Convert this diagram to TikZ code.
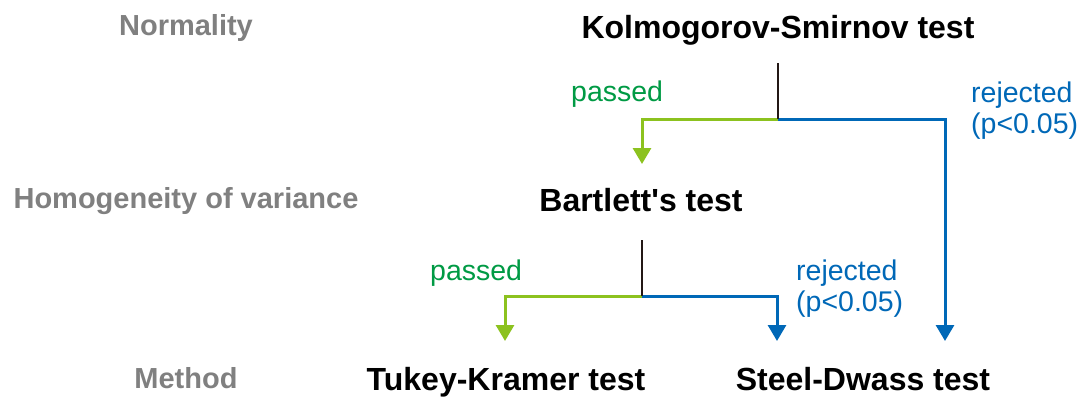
\documentclass[tikz,border=0pt]{standalone}
\usepackage{fontspec}
\setmainfont{Liberation Sans}[Ligatures=TeXOff]
\usetikzlibrary{arrows.meta}
\definecolor{graytxt}{HTML}{808080}
\definecolor{greentxt}{HTML}{009A44}
\definecolor{greenln}{HTML}{8CC21F}
\definecolor{blueln}{HTML}{0068B7}
\definecolor{blackln}{HTML}{231815}
\tikzset{
  rowlabel/.style={font=\fontsize{29}{33}\selectfont\bfseries, text=graytxt, anchor=base, inner sep=0pt},
  testlabel/.style={font=\fontsize{32}{36}\selectfont\bfseries, text=black, anchor=base, inner sep=0pt},
  passlabel/.style={font=\fontsize{28.5}{31}\selectfont, text=greentxt, anchor=base west, inner sep=0pt},
  rejlabel/.style={font=\fontsize{28.5}{31}\selectfont, text=blueln, anchor=base west, inner sep=0pt, align=left},
  stem/.style={draw=blackln, line width=2.8pt},
  passline/.style={draw=greenln, line width=3pt, -{Triangle[length=16pt,width=18pt]}},
  rejline/.style={draw=blueln, line width=3pt, -{Triangle[length=16pt,width=18pt]}}
}
\begin{document}
\begin{tikzpicture}[x=1pt,y=-1pt]
\useasboundingbox (0,0) rectangle (1083,396);
% row labels
\node[rowlabel] (normality) at (186,36) {Normality};
\node[rowlabel] (homog) at (186,208) {Homogeneity of variance};
\node[rowlabel] (method) at (186,388) {Method};
% tests
\node[testlabel] (ks) at (778,38) {Kolmogorov-Smirnov test};
\node[testlabel] (bart) at (641,211) {Bartlett's test};
\node[testlabel] (tukey) at (506,390) {Tukey-Kramer test};
\node[testlabel] (steel) at (863,390) {Steel-Dwass test};
% branch labels (base anchor is the last line)
\node[passlabel] (p1) at (571,101) {passed};
\node[rejlabel] (r1) at (971,133) {rejected\\(p<0.05)};
\node[passlabel] (p2) at (430,280) {passed};
\node[rejlabel] (r2) at (796,311) {rejected\\(p<0.05)};
% junction coordinates
\coordinate (ktop) at (778,63);
\coordinate (kj) at (778,119);
\coordinate (kpass) at (642,164);
\coordinate (krej) at (945,341);
\coordinate (btop) at (642,240);
\coordinate (bj) at (642,296);
\coordinate (bpass) at (505,341);
\coordinate (brej) at (777,341);
% connectors
\draw[passline] (kj) -| (kpass);
\draw[rejline] (kj) -| (krej);
\draw[stem] (ktop) -- (kj);
\draw[passline] (bj) -| (bpass);
\draw[rejline] (bj) -| (brej);
\draw[stem] (btop) -- (bj);
\end{tikzpicture}
\end{document}
